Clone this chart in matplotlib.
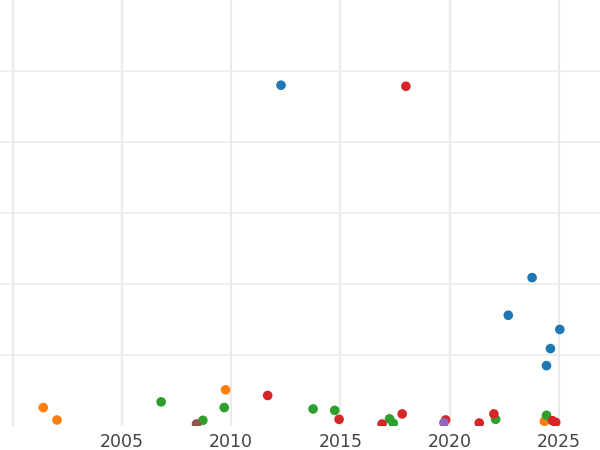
import matplotlib
matplotlib.use('Agg')
import matplotlib.pyplot as plt

# data (y in arbitrary units, labels not visible)
blue_x = [2012.28, 2022.69, 2023.78, 2024.44, 2024.62, 2025.05]
blue_y = [480, 156, 209, 85, 109, 136]
orange_x = [2001.39, 2002.02, 2009.74, 2024.34]
orange_y = [26, 8.5, 51, 6.6]
green_x = [2006.79, 2008.70, 2009.68, 2013.75, 2014.74, 2017.25, 2017.42, 2022.11, 2024.44]
green_y = [34, 8, 26, 24, 22, 10, 3.8, 9.4, 15]
red_x = [2011.67, 2014.94, 2016.91, 2017.83, 2018.00, 2019.82, 2021.36, 2022.03, 2024.71, 2024.86]
red_y = [43, 9.4, 2.8, 17, 478.5, 8.5, 4.2, 17, 7.5, 5.2]
purple_x = [2019.74]
purple_y = [4.6]
brown_x = [2008.41]
brown_y = [2.8]

series = [
    (blue_x, blue_y, '#1f77b4'),
    (orange_x, orange_y, '#ff7f0e'),
    (green_x, green_y, '#2ca02c'),
    (red_x, red_y, '#d62728'),
    (purple_x, purple_y, '#9467bd'),
    (brown_x, brown_y, '#8c564b'),
]

fig = plt.figure(figsize=(6, 4.5), dpi=100)
ax = fig.add_axes([0, 24 / 450, 1, 426 / 450])

for xs, ys, c in series:
    ax.scatter(xs, ys, s=48, color=c, edgecolors='none', zorder=3)

ax.set_xlim(1999.41, 2026.89)
ax.set_ylim(0, 600)
ax.set_xticks([2000, 2005, 2010, 2015, 2020, 2025])
ax.set_xticklabels(['', '2005', '2010', '2015', '2020', '2025'])
ax.set_yticks([100, 200, 300, 400, 500])
ax.set_yticklabels([])
ax.tick_params(axis='both', length=0, labelsize=12.5, colors='#444444', pad=5)
ax.grid(True, axis='x', color='#ebebeb', linewidth=1.6, zorder=0)
ax.grid(True, axis='y', color='#ebebeb', linewidth=1.2, zorder=0)
ax.set_axisbelow(True)
for s in ax.spines.values():
    s.set_visible(False)

plt.savefig('out.png', dpi=100)
plt.close(fig)
